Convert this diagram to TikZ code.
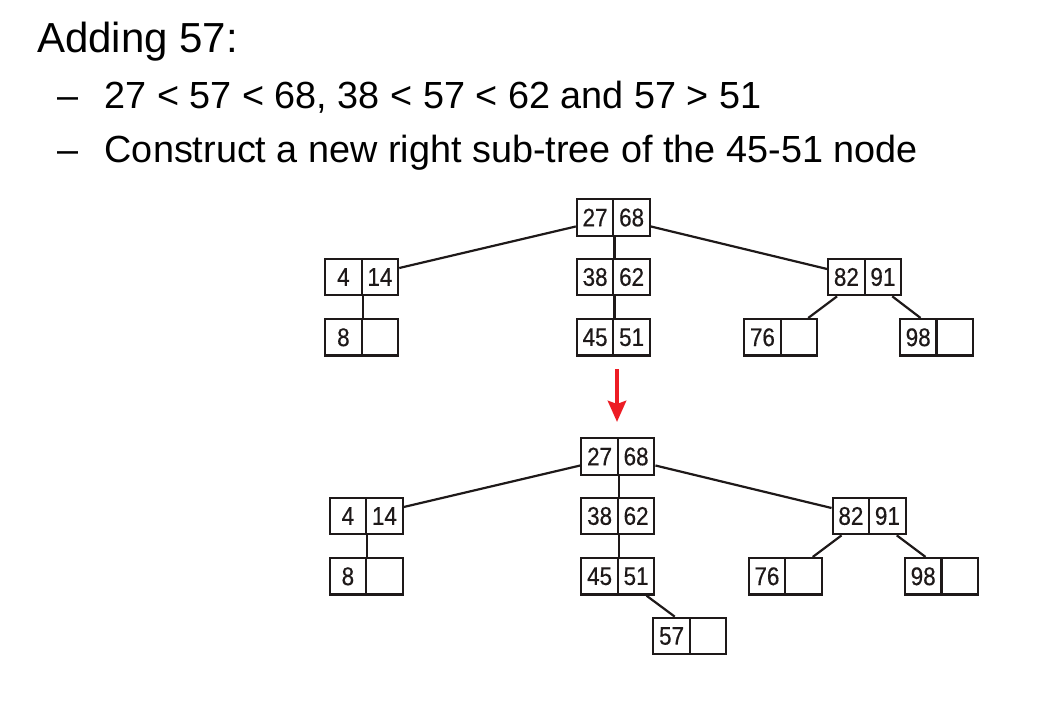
\documentclass[tikz,border=0pt]{standalone}
\usepackage{fontspec}
\setmainfont{Liberation Sans}
\newfontfamily\cellfont[FakeStretch=0.88,FakeBold=0.4]{Liberation Sans}
\usetikzlibrary{arrows.meta}
\definecolor{arrowred}{RGB}{237,28,36}
\definecolor{inkblack}{RGB}{30,25,25}
\tikzset{
  cell/.style={draw=inkblack, line width=2.2pt, minimum width=36.5pt, minimum height=36.5pt,
    inner sep=0pt, font=\cellfont\fontsize{25.5}{25.5}\selectfont, text=inkblack},
  link/.style={draw=inkblack, line width=2.2pt},
  titletext/.style={anchor=base west, inner sep=0pt, font=\fontsize{42}{42}\selectfont},
  bullettext/.style={anchor=base west, inner sep=0pt, font=\fontsize{37.8}{37.8}\selectfont},
  redarrow/.style={draw=arrowred, line width=4.5pt, -{Stealth[length=21pt,width=18pt,inset=3pt]}}
}
% \btreepair{name}{x of left cell center}{y}{left text}{right text}
\newcommand{\btreepair}[5]{%
  \node[cell] (#1l) at (#2,#3) {#4};
  \node[cell] (#1r) at ({#2+36.5},#3) {#5};
}
\begin{document}
\begin{tikzpicture}[x=1pt,y=-1pt]
\useasboundingbox (0,0) rectangle (1053,703);
\fill[white] (0,0) rectangle (1053,703);

% text
\node[titletext] (title) at (37,53) {Adding 57:};
\node[bullettext] (d1) at (57,108.5) {–};
\node[bullettext] (b1) at (104.5,108.5) {27 < 57 < 68, 38 < 57 < 62 and 57 > 51};
\node[bullettext] (d2) at (57,162.7) {–};
\node[bullettext] (b2) at (104.5,162.7) {Construct a new right sub-tree of the 45-51 node};

% top tree
\btreepair{ta}{595.1}{217.5}{27}{68}
\btreepair{tb}{343.4}{277}{4}{14}
\btreepair{tc}{343.4}{337.3}{8}{}
\btreepair{td}{595.1}{277}{38}{62}
\btreepair{te}{595.1}{337.3}{45}{51}
\btreepair{tf}{846.4}{277}{82}{91}
\btreepair{tg}{762.4}{337.3}{76}{}
\btreepair{th}{918.2}{337.3}{98}{}

\draw[link] ([yshift=-9pt]tal.west) -- ([yshift=9pt]tbr.east);
\draw[link] ([yshift=-9pt]tar.east) -- ([yshift=8pt]tfl.west);
\draw[link] (tal.south east) -- (tdl.north east);
\draw[link] (tdl.south east) -- (tel.north east);
\draw[link] (tbl.south east) -- (tcl.north east);
\draw[link] ([xshift=10pt]tfl.south west) -- ([xshift=-10pt]tgr.north east);
\draw[link] ([xshift=-10pt]tfr.south east) -- ([xshift=21.7pt]thl.north west);

% arrow
\coordinate (arrS) at (617,369.5);
\coordinate (arrE) at (617,422);
\draw[redarrow] (arrS) -- (arrE);

% bottom tree
\btreepair{ba}{599.6}{456.5}{27}{68}
\btreepair{bb}{347.9}{516}{4}{14}
\btreepair{bc}{347.9}{576.3}{8}{}
\btreepair{bd}{599.6}{516}{38}{62}
\btreepair{be}{599.6}{576.3}{45}{51}
\btreepair{bf}{850.9}{516}{82}{91}
\btreepair{bg}{766.9}{576.3}{76}{}
\btreepair{bh}{923.2}{576.3}{98}{}
\btreepair{bi}{671.6}{636}{57}{}

\draw[link] ([yshift=-9pt]bal.west) -- ([yshift=9pt]bbr.east);
\draw[link] ([yshift=-9pt]bar.east) -- ([yshift=8pt]bfl.west);
\draw[link] (bal.south east) -- (bdl.north east);
\draw[link] (bdl.south east) -- (bel.north east);
\draw[link] (bbl.south east) -- (bcl.north east);
\draw[link] ([xshift=10pt]bfl.south west) -- ([xshift=-10pt]bgr.north east);
\draw[link] ([xshift=-10pt]bfr.south east) -- ([xshift=21.7pt]bhl.north west);
\draw[link] ([xshift=-9pt]ber.south east) -- ([xshift=22.5pt]bil.north west);
\end{tikzpicture}
\end{document}
